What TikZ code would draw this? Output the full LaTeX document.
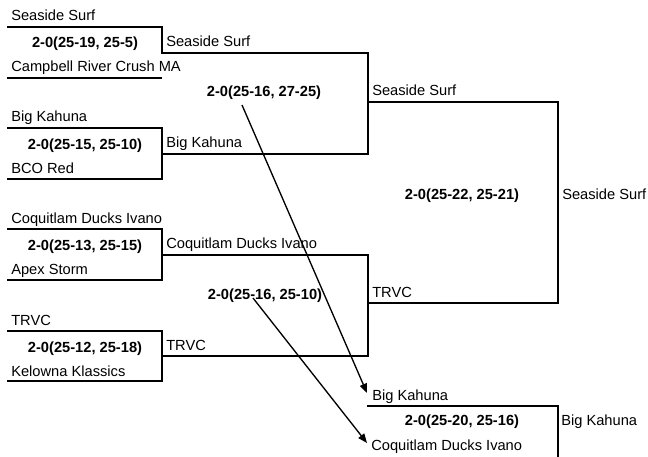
\documentclass[tikz,border=0pt]{standalone}
\usepackage{fontspec}
\setmainfont{Liberation Sans}
\usetikzlibrary{arrows.meta}
\begin{document}
\begin{tikzpicture}[x=0.75pt,y=-0.75pt,
  lbl/.style={anchor=base west, inner sep=0pt, font=\fontsize{11}{13}\selectfont},
  score/.style={anchor=base, inner sep=0pt, font=\fontsize{11}{13}\selectfont\bfseries},
  br/.style={line width=2pt, line join=miter},
  arr/.style={line width=1pt, -{Triangle[length=7pt,width=5.5pt]}}]
\useasboundingbox (0,0) rectangle (648,456);
% bracket lines
\draw[br] (7,27) -| (162,53) -- (368,53) |- (162,154);
\draw[br] (7,78) -- (162,78);
\draw[br] (7,128) -| (162,179) -- (7,179);
\draw[br] (7,229) -| (162,280) -- (7,280);
\draw[br] (162,255) -- (368,255) |- (162,356);
\draw[br] (7,331) -| (162,381) -- (7,381);
\draw[br] (368,102) -| (558,303) -- (368,303);
\draw[br] (367,406) -| (558,462);
% round 1
\node[lbl] (t1) at (11,21) {Seaside Surf};
\node[score] (s1) at (85,48) {2-0(25-19, 25-5)};
\node[lbl] (t2) at (11,72) {Campbell River Crush MA};
\node[lbl] (t3) at (11,122) {Big Kahuna};
\node[score] (s2) at (85,149) {2-0(25-15, 25-10)};
\node[lbl] (t4) at (11,173) {BCO Red};
\node[lbl] (t5) at (11,223) {Coquitlam Ducks Ivano};
\node[score] (s3) at (85,250) {2-0(25-13, 25-15)};
\node[lbl] (t6) at (11,274) {Apex Storm};
\node[lbl] (t7) at (11,325) {TRVC};
\node[score] (s4) at (85,352) {2-0(25-12, 25-18)};
\node[lbl] (t8) at (11,376) {Kelowna Klassics};
% round 2
\node[lbl] (w1) at (166,46.5) {Seaside Surf};
\node[lbl] (w2) at (166,147.5) {Big Kahuna};
\node[lbl] (w3) at (166,248.5) {Coquitlam Ducks Ivano};
\node[lbl] (w4) at (166,350) {TRVC};
\node[score] (s5) at (264,97) {2-0(25-16, 27-25)};
\node[score] (s6) at (265,299) {2-0(25-16, 25-10)};
% final
\node[lbl] (f1) at (372,96) {Seaside Surf};
\node[lbl] (f2) at (372,297) {TRVC};
\node[score] (s7) at (462,199) {2-0(25-22, 25-21)};
\node[lbl] (ch) at (562,199) {Seaside Surf};
% third place
\node[lbl] (p1) at (372,400) {Big Kahuna};
\node[score] (s8) at (462,425) {2-0(25-20, 25-16)};
\node[lbl] (p3) at (561,425) {Big Kahuna};
\node[lbl] (p2) at (371,450) {Coquitlam Ducks Ivano};
% arrows
\coordinate (a1s) at (242,105);
\coordinate (a1e) at (367,393);
\coordinate (a2s) at (253,298);
\coordinate (a2e) at (367,443);
\draw[arr] (a1s) -- (a1e);
\draw[arr] (a2s) -- (a2e);
\end{tikzpicture}
\end{document}
